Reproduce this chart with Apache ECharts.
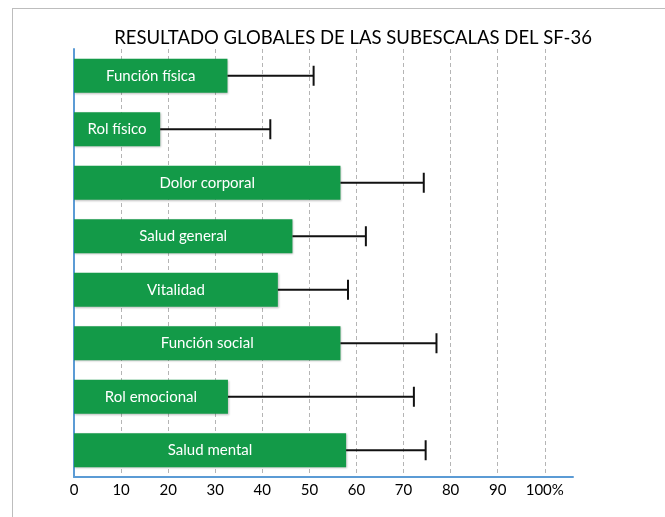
<!DOCTYPE html>
<html>
	<head>
		<meta charset="utf-8">
		<title></title>
		<style type="text/css">
			* {
				margin: 0;
				padding: 0;
			}

			html,
			body {
				width: 665px;
				height: 517px;
				overflow: hidden;
				background: #fff;
			}

			.frame {
				position: absolute;
				left: 12px;
				top: 8px;
				width: 700px;
				height: 600px;
				border: 1px solid #bdbdbd;
			}

			#main {
				position: absolute;
				left: 0;
				top: 0;
				width: 665px;
				height: 517px;
			}
		</style>
	</head>
	<body>
		<div class="frame"></div>
		<div id="main"></div>
		<script src="https://cdn.jsdelivr.net/npm/echarts@6/dist/echarts.min.js"></script>
		<script>
			var categories = ['Función física', 'Rol físico', 'Dolor corporal', 'Salud general', 'Vitalidad', 'Función social', 'Rol emocional', 'Salud mental']
			var means = [32.6, 18.3, 56.6, 46.4, 43.3, 56.6, 32.7, 57.8]
			var upper = [50.9, 41.7, 74.3, 62.0, 58.2, 77.0, 72.2, 74.7]

			var errdata = []
			for (let i = 0; i < categories.length; i++) {
				errdata.push([i, means[i], upper[i]])
			}

			// grid lines: 0..100 gray, extent end (106) hidden
			var gridColors = []
			for (let i = 0; i <= 10; i++) gridColors.push('#b5b5b5')
			gridColors.push('rgba(0,0,0,0)')

			var myChart = echarts.init(document.getElementById('main'));
			var option = {
				title: {
					text: 'RESULTADO GLOBALES DE LAS SUBESCALAS DEL SF-36',
					left: 348,
					textAlign: 'center',
					top: 24,
					textStyle: {
						fontFamily: 'Lato',
						fontWeight: 'normal',
						fontSize: 18.5,
						color: '#000'
					}
				},
				grid: {
					left: 74,
					right: 92,
					top: 49,
					bottom: 40
				},
				xAxis: {
					type: 'value',
					min: 0,
					max: 106,
					interval: 10,
					axisLine: {
						show: true,
						lineStyle: { color: '#5b9bd5', width: 2 }
					},
					axisTick: { show: false },
					axisLabel: {
						margin: 6,
						fontFamily: 'Lato',
						fontSize: 15,
						color: '#000',
						showMaxLabel: true,
						formatter: function(v) {
							if (v > 100) return ''
							if (v == 100) return '100%'
							return v
						}
					},
					splitLine: {
						show: true,
						lineStyle: { color: gridColors, type: [4, 3], width: 1 }
					}
				},
				yAxis: {
					type: 'category',
					inverse: true,
					data: categories,
					axisLine: {
						show: true,
						lineStyle: { color: '#5b9bd5', width: 2 }
					},
					axisTick: { show: false },
					axisLabel: { show: false },
					splitLine: { show: false }
				},
				series: [{
					type: 'bar',
					data: means,
					barWidth: 34,
					itemStyle: {
						color: '#139a48',
						shadowColor: 'rgba(0,0,0,0.25)',
						shadowBlur: 2,
						shadowOffsetX: 1,
						shadowOffsetY: 1
					},
					label: {
						show: true,
						position: 'inside',
						formatter: '{b}',
						fontFamily: 'Lato',
						fontSize: 15,
						color: '#fff'
					},
					z: 2
				}, {
					type: 'custom',
					data: errdata,
					encode: { x: [1, 2], y: 0 },
					z: 3,
					renderItem: function(params, api) {
						var idx = api.value(0)
						var p0 = api.coord([api.value(1), idx])
						var p1 = api.coord([api.value(2), idx])
						var half = 10
						var st = { stroke: '#111', lineWidth: 2 }
						return {
							type: 'group',
							children: [{
								type: 'line',
								shape: { x1: p0[0], y1: p0[1], x2: p1[0], y2: p1[1] },
								style: st
							}, {
								type: 'line',
								shape: { x1: p1[0], y1: p1[1] - half, x2: p1[0], y2: p1[1] + half },
								style: st
							}]
						}
					}
				}]
			};
			myChart.setOption(option);
		</script>
	</body>
</html>
